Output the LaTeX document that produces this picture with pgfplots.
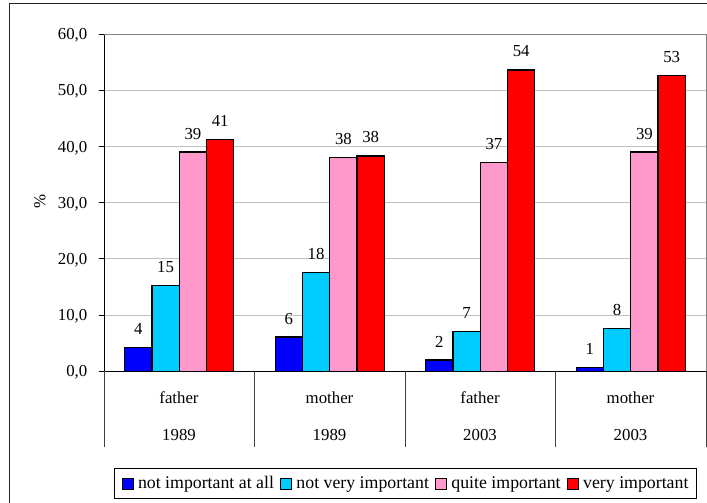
\documentclass[border=0pt]{standalone}
\usepackage{fontspec}
\setmainfont{Liberation Serif}
\usepackage{pgfplots}
\usepackage{pgfplotstable}
\pgfplotsset{compat=1.18}

\definecolor{cblue}{HTML}{0000FF}
\definecolor{ccyan}{HTML}{00CCFF}
\definecolor{cpink}{HTML}{FF99CC}
\definecolor{cred}{HTML}{FF0000}
\definecolor{gridgray}{HTML}{C0C0C0}
\definecolor{framegray}{HTML}{808080}

% share of answers (%) per parent and survey year
\pgfplotstableread{
x    notatall notvery quite very
0.5  4.3      15.3    39.0  41.3
1.5  6.1      17.6    38.0  38.3
2.5  2.0      7.1     37.2  53.6
3.5  0.7      7.6     39.0  52.6
}\datatable

\pgfplotsset{
  legbox/.style={legend image code/.code={
    \draw[##1, line width=0.9pt] (0pt,-5.5pt) rectangle (11pt,5.5pt);}},
}

\begin{document}
\fontsize{16.8}{20}\selectfont
\begin{tikzpicture}[x=1pt,y=1pt]
\useasboundingbox (0,0) rectangle (707,503);
% outer chart frame
\draw[line width=1pt, black!85] (9.3,-20) -- (9.3,499) -- (740,499);
\begin{axis}[
  scale only axis, width=602pt, height=337.3pt,
  at={(104pt,131.7pt)}, anchor=south west,
  xmin=0, xmax=4, ymin=0, ymax=60,
  ybar=0pt, bar width=27.3pt,
  axis x line*=bottom, axis y line*=left,
  axis line style={black, line width=0.9pt},
  xtick=\empty,
  ytick={0,10,...,60},
  tick align=outside, major tick length=5.5pt,
  tick style={black, line width=0.9pt},
  ymajorgrids, major grid style={color=gridgray, line width=0.9pt},
  yticklabel={\pgfmathprintnumber[fixed,fixed zerofill,precision=1,use comma,assume math mode=true]{\tick}},
  yticklabel style={anchor=east, inner sep=0pt, text depth=0pt, xshift=-11pt},
  nodes near coords={\pgfmathprintnumber[fixed,precision=0,assume math mode=true]{\pgfplotspointmeta}},
  nodes near coords style={anchor=base, inner sep=0pt, yshift=13pt, black},
  legbox,
  legend columns=4,
  legend style={at={(axis description cs:0.5,-0.3327)}, anchor=center,
    draw=black, line width=0.9pt, inner xsep=7.5pt, inner ysep=7.5pt,
    font=\fontsize{17.8}{20}\selectfont,
    nodes={inner sep=0pt},
    /tikz/every odd column/.append style={column sep=4.6pt},
    /tikz/every even column/.append style={column sep=6pt}},
  clip=false,
]
\addplot[fill=cblue, draw=black, line width=1.2pt, legbox] table[x=x, y=notatall] {\datatable};
\addplot[fill=ccyan, draw=black, line width=1.2pt, legbox] table[x=x, y=notvery] {\datatable};
\addplot[fill=cpink, draw=black, line width=1.2pt, legbox] table[x=x, y=quite] {\datatable};
\addplot[fill=cred, draw=black, line width=1.2pt, legbox] table[x=x, y=very] {\datatable};
\legend{not important at all, not very important, quite important, very important}
% plot area border (top and right)
\draw[framegray, line width=0.9pt] (rel axis cs:0,1) -- (rel axis cs:1,1) -- (rel axis cs:1,0);
% category separators below the axis
\pgfplotsinvokeforeach{0,...,4}{
  \draw[black!75, line width=0.9pt] (axis cs:#1,0) -- ++(0pt,-76pt);
}
\end{axis}
% category labels
\foreach \cx/\who/\yr in {179/father/1989, 329.5/mother/1989, 480/father/2003, 630.5/mother/2003}{
  \node[anchor=base, inner sep=0pt] at (\cx,99.7) {\who};
  \node[anchor=base, inner sep=0pt] at (\cx,62.3) {\yr};
}
\node[rotate=90, inner sep=0pt] at (40,301) {\%};
\end{tikzpicture}
\end{document}
